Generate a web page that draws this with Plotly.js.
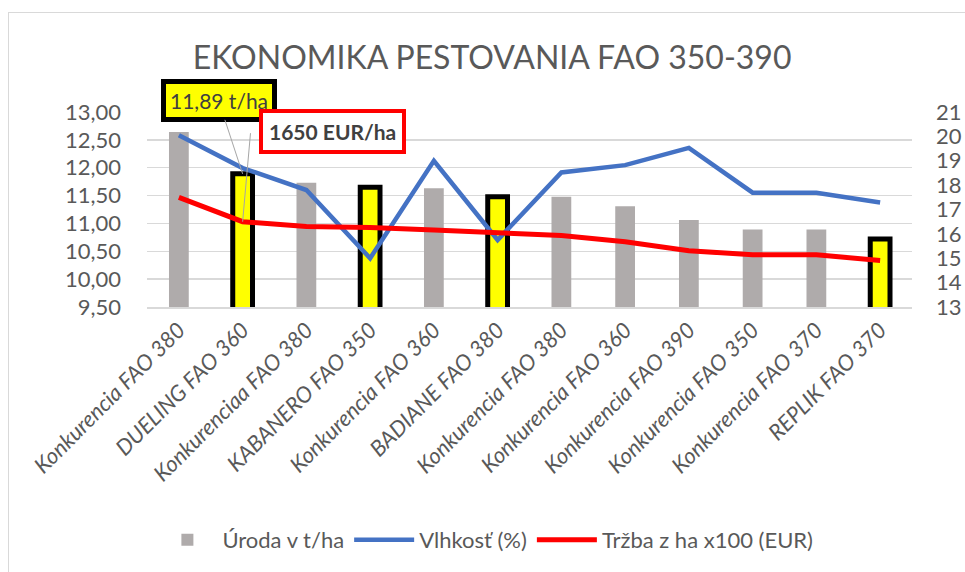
<!DOCTYPE html>
<html>
<head>
<meta charset="utf-8">
<script src="https://cdn.plot.ly/plotly-3.0.1.min.js"></script>
<style>
  html, body { margin: 0; padding: 0; background: #ffffff; }
  #wrap { position: relative; width: 965px; height: 572px; overflow: hidden; }
  #chart { width: 965px; height: 572px; }
  #frame { position: absolute; left: 8px; top: 12px; width: 1000px; height: 600px;
           border-left: 1.5px solid #d9d9d9; border-top: 1.5px solid #d9d9d9; pointer-events: none; }
</style>
</head>
<body>
<div id="wrap">
  <div id="chart"></div>
  <div id="frame"></div>
</div>
<script>
// ---- data ----
const categories = [
  "Konkurencia FAO 380", "DUELING FAO 360", "Konkurenciaa FAO 380", "KABANERO FAO 350",
  "Konkurencia FAO 360", "BADIANE FAO 380", "Konkurencia FAO 380", "Konkurencia FAO 360",
  "Konkurencia FAO 390", "Konkurencia FAO 350", "Konkurencia FAO 370", "REPLIK FAO 370"
];
const highlighted = [false, true, false, true, false, true, false, false, false, false, false, true];
const yieldTons = [12.64, 11.89, 11.73, 11.65, 11.63, 11.48, 11.48, 11.31, 11.06, 10.89, 10.89, 10.72];
const moisture = [20.05, 18.7, 17.8, 15.0, 19.0, 15.75, 18.52, 18.82, 19.53, 17.69, 17.69, 17.29];
const revenue100 = [17.5, 16.5, 16.3, 16.26, 16.16, 16.03, 15.93, 15.68, 15.31, 15.14, 15.14, 14.91];
const leftTicks = [9.5, 10, 10.5, 11, 11.5, 12, 12.5, 13];
const rightTicks = [13, 14, 15, 16, 17, 18, 19, 20, 21];
const seriesNames = ["Úroda v t/ha", "Vlhkosť (%)", "Tržba z ha x100 (EUR)"];
const titleText = "EKONOMIKA PESTOVANIA FAO 350-390";
const yieldLabel = "11,89 t/ha";
const revenueLabel = "1650 EUR/ha";
const labelIndex = 1;

const xs = categories.map((_, i) => i);
const FONT = "Lato, 'Open Sans', sans-serif";
const GREY_TXT = "#595959";

const traces = [
  {
    type: "bar", name: seriesNames[0], x: xs, y: yieldTons, yaxis: "y",
    width: 0.31,
    marker: {
      color: highlighted.map(h => h ? "#FFFF00" : "#AFABAB"),
      line: { color: "#000000", width: highlighted.map(h => h ? 5 : 0) }
    },
    hoverinfo: "skip"
  },
  {
    type: "scatter", mode: "lines", name: seriesNames[1], x: xs, y: moisture, yaxis: "y2",
    line: { color: "#4472C4", width: 4.5 }, hoverinfo: "skip"
  },
  {
    type: "scatter", mode: "lines", name: seriesNames[2], x: xs, y: revenue100, yaxis: "y2",
    line: { color: "#FF0000", width: 5 }, hoverinfo: "skip"
  }
];

const layout = {
  width: 965, height: 572,
  margin: { l: 147, r: 53, t: 112, b: 265, pad: 0 },
  paper_bgcolor: "rgba(0,0,0,0)", plot_bgcolor: "rgba(0,0,0,0)",
  separators: ", ",
  font: { family: FONT, color: GREY_TXT },
  title: {
    text: titleText, font: { family: FONT, size: 32, color: GREY_TXT },
    x: 0.51, xanchor: "center", xref: "container",
    y: 1 - 58 / 572, yanchor: "middle", yref: "container"
  },
  showlegend: true,
  legend: {
    orientation: "h", xref: "container", yref: "container",
    x: 0.503, xanchor: "center", y: 1 - 540 / 572, yanchor: "middle",
    font: { family: FONT, size: 22, color: GREY_TXT },
    itemwidth: 60, tracegroupgap: 0, traceorder: "normal"
  },
  xaxis: {
    range: [-0.5, categories.length - 0.5],
    tickmode: "array", tickvals: xs, ticktext: categories,
    tickangle: -45, tickfont: { family: FONT, size: 22, color: GREY_TXT, style: "italic" },
    showgrid: false, zeroline: false, showline: true, linecolor: "#d9d9d9", linewidth: 1.5,
    ticks: "", fixedrange: true
  },
  yaxis: {
    range: [9.5, 13], tickmode: "array", tickvals: leftTicks, tickformat: ".2f",
    tickfont: { family: FONT, size: 22, color: GREY_TXT },
    showgrid: true, gridcolor: "#d9d9d9", gridwidth: 1.5,
    zeroline: false, showline: false, ticks: "", ticklabelstandoff: 25, fixedrange: true
  },
  yaxis2: {
    range: [13, 21], overlaying: "y", side: "right",
    tickmode: "array", tickvals: rightTicks,
    tickfont: { family: FONT, size: 22, color: GREY_TXT },
    showgrid: false, zeroline: false, showline: false, ticks: "", ticklabelstandoff: 23, fixedrange: true
  },
  annotations: [
    {
      x: labelIndex, y: yieldTons[labelIndex], xref: "x", yref: "y",
      text: yieldLabel, showarrow: true, arrowhead: 0, arrowwidth: 1, arrowcolor: "#a6a6a6",
      ax: -24, ay: -73, axref: "pixel", ayref: "pixel",
      font: { family: FONT, size: 21, color: "#404040" },
      bgcolor: "#FFFF00", bordercolor: "#000000", borderwidth: 5, borderpad: 4
    },
    {
      x: labelIndex, y: revenue100[labelIndex], xref: "x", yref: "y2",
      text: "", showarrow: true, arrowhead: 0, arrowwidth: 1, arrowcolor: "#a6a6a6",
      ax: 8, ay: -90, axref: "pixel", ayref: "pixel"
    },
    {
      x: labelIndex, y: revenue100[labelIndex], xref: "x", yref: "y2",
      text: "<b>" + revenueLabel + "</b>", showarrow: false,
      xshift: 90, yshift: 90,
      font: { family: FONT, size: 21, color: "#404040" },
      bgcolor: "#FFFFFF", bordercolor: "#FF0000", borderwidth: 4, borderpad: 6
    }
  ]
};

Plotly.newPlot("chart", traces, layout, { displayModeBar: false, staticPlot: true });
</script>
</body>
</html>
